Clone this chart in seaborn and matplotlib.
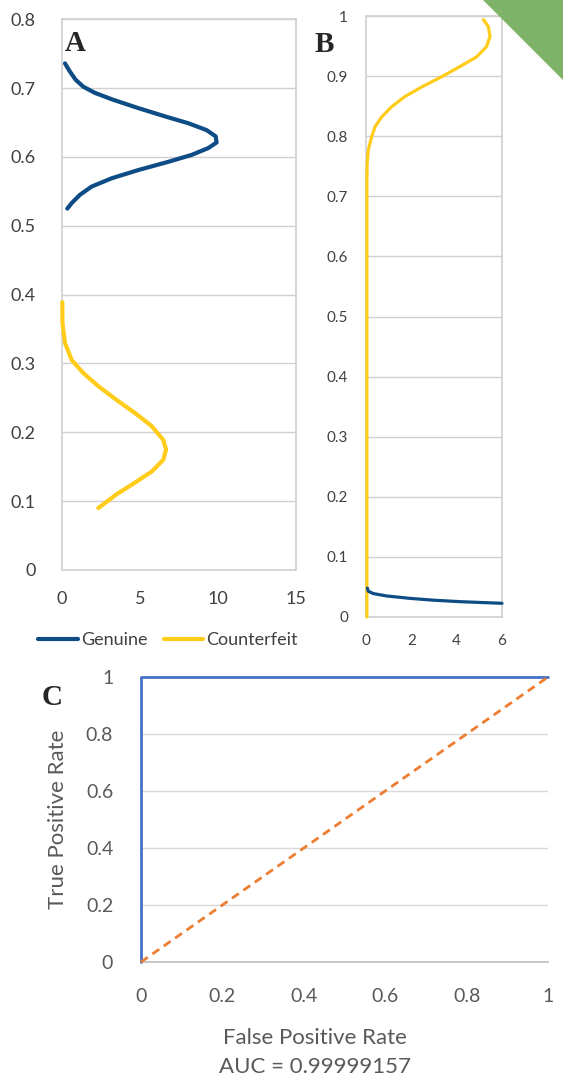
import numpy as np
import matplotlib
matplotlib.use("Agg")
import matplotlib.pyplot as plt
from matplotlib.patches import Polygon
import seaborn as sns

# Panel A: density (x) against score (y)
genuine_a_density = [0.19, 0.51, 0.88, 1.37, 2.12, 3.29, 4.89, 6.6, 8.1, 9.27, 9.85, 9.91,
                     9.38, 8.31, 6.82, 4.89, 3.18, 1.9, 1.15, 0.62, 0.34]
genuine_a_score = [0.736, 0.724, 0.712, 0.702, 0.693, 0.683, 0.671, 0.659, 0.649, 0.639, 0.63, 0.621,
                   0.613, 0.603, 0.593, 0.581, 0.569, 0.557, 0.545, 0.533, 0.525]
counter_a_density = [0.02, 0.03, 0.19, 0.62, 1.37, 2.33, 3.5, 4.68, 5.75, 6.49, 6.67, 6.49,
                     5.75, 4.68, 3.5, 2.33]
counter_a_score = [0.389, 0.359, 0.33, 0.305, 0.286, 0.267, 0.247, 0.228, 0.209, 0.189, 0.175, 0.16,
                   0.143, 0.127, 0.11, 0.09]

# Panel B
counter_b_density = [5.18, 5.4, 5.47, 5.32, 4.88, 4.15, 3.34, 2.46, 1.72, 1.13, 0.69, 0.4,
                     0.25, 0.1, 0.05, 0.04, 0.04]
counter_b_score = [0.994, 0.982, 0.966, 0.949, 0.932, 0.916, 0.899, 0.882, 0.866, 0.849, 0.832, 0.816,
                   0.799, 0.777, 0.755, 0.733, 0.0]
genuine_b_density = [0.06, 0.1, 0.32, 0.91, 1.94, 2.97, 4.15, 6.0]
genuine_b_score = [0.048, 0.043, 0.039, 0.035, 0.031, 0.028, 0.0255, 0.0228]

# Panel C: ROC
roc_fpr = [0.0, 0.0, 1.0]
roc_tpr = [0.0, 1.0, 1.0]
chance = [0.0, 1.0]
auc_value = 0.99999157

BLUE = "#0E4C86"
GOLD = "#FFCC1A"
GRID = "#D0D0D0"
TICK = "#404040"

sns.set_theme(style="white")
plt.rcParams["font.family"] = ["Lato", "DejaVu Sans"]

W, H = 563, 1079
fig = plt.figure(figsize=(W / 100, H / 100), dpi=100)


def px_axes(left, top, right, bottom):
    return fig.add_axes([left / W, 1 - bottom / H, (right - left) / W, (bottom - top) / H])


def curve(ax, x, y, color, lw, **kw):
    sns.lineplot(x=x, y=y, sort=False, estimator=None, ax=ax, color=color, lw=lw,
                 solid_capstyle="round", solid_joinstyle="round", zorder=3, **kw)


def box_style(ax, size, xpad, ypad):
    ax.grid(True, axis="y", color=GRID, lw=1)
    ax.set_axisbelow(True)
    for s in ax.spines.values():
        s.set_color(GRID)
        s.set_linewidth(1.2)
    ax.tick_params(axis="both", length=0, labelsize=size, colors=TICK)
    ax.tick_params(axis="x", pad=xpad)
    ax.tick_params(axis="y", pad=ypad)
    ax.set_xlabel("")
    ax.set_ylabel("")
    for ln in ax.lines:
        ln.set_clip_on(False)


# ---- A
ax_a = px_axes(62, 19.3, 296, 570)
curve(ax_a, genuine_a_density, genuine_a_score, BLUE, 3, label="Genuine")
curve(ax_a, counter_a_density, counter_a_score, GOLD, 3, label="Counterfeit")
ax_a.set_xlim(0, 15)
ax_a.set_ylim(0, 0.8)
ax_a.set_xticks([0, 5, 10, 15])
ax_a.set_yticks(np.arange(0, 0.81, 0.1))
ax_a.set_yticklabels(["0"] + [f"{v:.1f}" for v in np.arange(0.1, 0.81, 0.1)])
box_style(ax_a, 13, 15, 19)
handles, labels = ax_a.get_legend_handles_labels()
ax_a.get_legend().remove()

# ---- B
ax_b = px_axes(366, 16, 502, 617)
curve(ax_b, counter_b_density, counter_b_score, GOLD, 2.3)
curve(ax_b, genuine_b_density, genuine_b_score, BLUE, 2.3)
ax_b.set_xlim(0, 6)
ax_b.set_ylim(0, 1)
ax_b.set_xticks([0, 2, 4, 6])
ax_b.set_yticks(np.arange(0, 1.01, 0.1))
ax_b.set_yticklabels(["0"] + [f"{v:.1f}" for v in np.arange(0.1, 0.95, 0.1)] + ["1"])
box_style(ax_b, 11, 12, 13)

fig.legend(handles, labels, loc="center", bbox_to_anchor=(168 / W, 1 - 640 / H),
           ncol=2, frameon=False, fontsize=13, handlelength=2.2, handletextpad=0.15,
           columnspacing=0.9, labelcolor=TICK)

# ---- C
ax_c = px_axes(141, 677, 548, 962)
curve(ax_c, roc_fpr, roc_tpr, "#4472C4", 2.0)
sns.lineplot(x=chance, y=chance, sort=False, estimator=None, ax=ax_c, color="#ED7D31",
             lw=2, linestyle=(0, (3, 2)), zorder=3)
ax_c.set_xlim(0, 1)
ax_c.set_ylim(0, 1)
ax_c.set_xticks([0, 0.2, 0.4, 0.6, 0.8, 1])
ax_c.set_xticklabels(["0", "0.2", "0.4", "0.6", "0.8", "1"])
ax_c.set_yticks([0, 0.2, 0.4, 0.6, 0.8, 1])
ax_c.set_yticklabels(["0", "0.2", "0.4", "0.6", "0.8", "1"])
ax_c.grid(True, axis="y", color="#D9D9D9", lw=1)
ax_c.set_axisbelow(True)
for side in ["left", "right", "top"]:
    ax_c.spines[side].set_visible(False)
ax_c.spines["bottom"].set_color("#BFBFBF")
ax_c.tick_params(axis="both", length=0, labelsize=14, colors="#595959")
ax_c.tick_params(axis="x", pad=19)
ax_c.tick_params(axis="y", pad=20)
ax_c.set_xlabel("")
ax_c.set_ylabel("")
for ln in ax_c.lines:
    ln.set_clip_on(False)

fig.text(58 / W, 1 - 819 / H, "True Positive Rate", rotation=90, ha="center", va="center",
         fontsize=16, color="#595959")
fig.text(315 / W, 1 - 1038 / H, "False Positive Rate", ha="center", va="center",
         fontsize=16, color="#595959")
fig.text(315 / W, 1 - 1067 / H, f"AUC = {auc_value}", ha="center", va="center",
         fontsize=16, color="#595959")

# panel letters
serif = ["Liberation Serif", "DejaVu Serif"]
fig.text(65 / W, 1 - 51 / H, "A", family=serif, weight="bold", fontsize=21, va="baseline")
fig.text(315 / W, 1 - 52 / H, "B", family=serif, weight="bold", fontsize=21, va="baseline")
fig.text(42 / W, 1 - 705 / H, "C", family=serif, weight="bold", fontsize=21, va="baseline")

# green corner ribbon
fig.patches.append(Polygon([(483 / W, 1), (1, 1), (1, 1 - 80 / H)], closed=True,
                           transform=fig.transFigure, facecolor="#7DB46A", edgecolor="none"))

fig.savefig("out.png", dpi=100)
